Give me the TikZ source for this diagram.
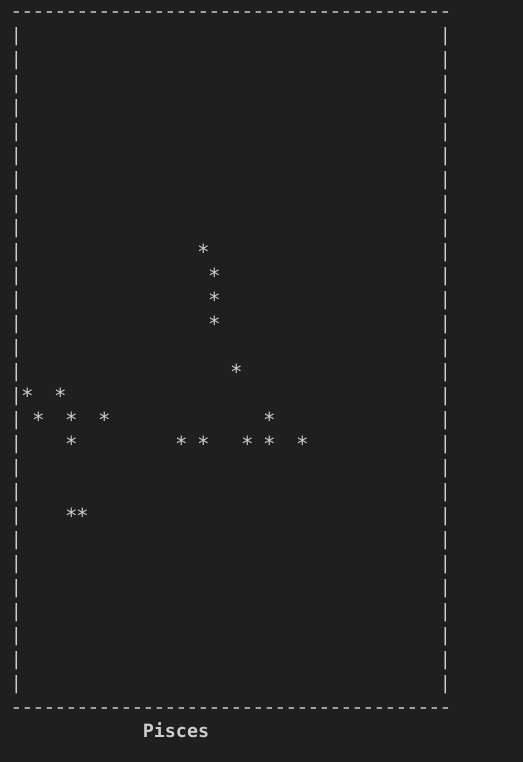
\documentclass[tikz,border=0pt]{standalone}
\usepackage{fontspec}
\setmonofont{DejaVu Sans Mono}
\definecolor{termbg}{HTML}{1F1F1F}
\definecolor{termfg}{HTML}{CCCCCC}

\begin{document}
\begin{tikzpicture}[
    x=0.6pt, y=-0.6pt,
    glyph/.style={anchor=base, inner sep=0pt, text=termfg, font=\ttfamily\fontsize{11}{11}\selectfont},
    stars/.style={glyph, font=\ttfamily\fontsize{12.5}{12.5}\selectfont},
    title/.style={glyph, font=\ttfamily\bfseries\fontsize{11}{11}\selectfont},
]

% Terminal background
\fill[termbg] (0,0) rectangle (523,762);
\useasboundingbox (0,0) rectangle (523,762);

% Top and bottom dashed rules
\foreach \c in {0,...,39} {
    \node[glyph, xscale=1.15] (top\c) at ({16.5+11*\c}, 17.5) {-};
    \node[glyph, xscale=1.15] (bot\c) at ({16.5+11*\c}, {24*29+17.5}) {-};
}

% Side bars
\foreach \r in {1,...,28} {
    \node[glyph] (left\r)  at (16.5, {24*\r+17.5}) {|};
    \node[glyph] (right\r) at ({16.5+11*39}, {24*\r+17.5}) {|};
}

% Stars (column/row)
\foreach \c/\r [count=\i] in {17/10, 18/11, 18/12, 18/13, 20/15,
        1/16, 4/16, 2/17, 5/17, 8/17, 23/17,
        5/18, 15/18, 17/18, 21/18, 23/18, 26/18, 5/21, 6/21}
    \node[stars] (star\i) at ({16.5+11*\c}, {24*\r+19.5}) {*};

% Constellation name
\node[title] (name) at (176, {24*30+17.5}) {Pisces};

\end{tikzpicture}
\end{document}
